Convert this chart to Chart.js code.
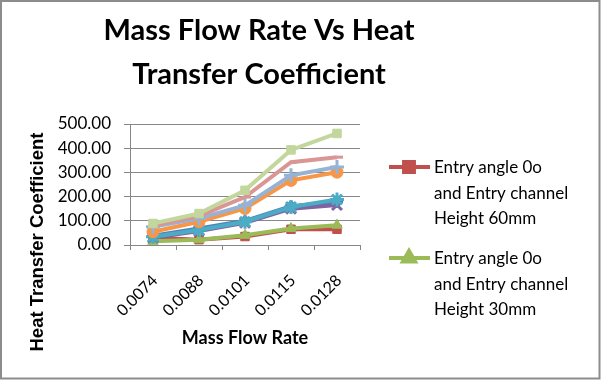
<!DOCTYPE html>
<html><head><meta charset="utf-8">
<script src="https://cdn.jsdelivr.net/npm/chart.js@4"></script>
<style>html,body{margin:0;padding:0;background:#fff}#wrap{width:604px;height:392px;position:relative}</style>
</head><body><div id="wrap"><canvas id="c" width="604" height="392"></canvas></div>
<script>
// ---- data ----
const categories = ['0.0074', '0.0088', '0.0101', '0.0115', '0.0128'];
const yTickValues = [0, 100, 200, 300, 400, 500];
const titleLines = ['Mass Flow Rate Vs Heat', 'Transfer Coefficient'];
const yAxisTitle = 'Heat Transfer Coefficient';
const xAxisTitle = 'Mass Flow Rate';

const seriesNames = [
  'Series 1',
  'Entry angle 0o and Entry channel Height 60mm',
  'Entry angle 0o and Entry channel Height 30mm',
  'Series 4', 'Series 5', 'Series 6', 'Series 7', 'Series 8', 'Series 9'
];
const legendLines2 = ['Entry angle 0o', 'and Entry channel', 'Height 60mm'];
const legendLines3 = ['Entry angle 0o', 'and Entry channel', 'Height 30mm'];
const series1 = [38, 68, 100, 160, 178];
const series2 = [30, 22, 35, 65, 65];
const series3 = [15, 22, 40, 68, 82];
const series4 = [30, 58, 92, 150, 165];
const series5 = [34, 62, 96, 157, 188];
const series6 = [55, 96, 151, 267, 301];
const series7 = [75, 110, 164, 288, 322];
const series8 = [80, 120, 198, 342, 363];
const series9 = [89, 130, 226, 393, 461];
const legendShown = [1, 2];
const legendTexts = [legendLines2, legendLines3];

// ---- styles ----
const colors = ['#4F81BD', '#C0504D', '#9BBB59', '#8064A2', '#4BACC6', '#F79646', '#95B3D7', '#D99694', '#C3D69B'];
const markers = ['rectRot', 'rect', 'triangle', 'crossRot', 'star', 'circle', 'cross', 'dash', 'rect'];
const allSeries = [series1, series2, series3, series4, series5, series6, series7, series8, series9];
const FONT = 'Lato, "Open Sans", sans-serif';
const GRID = '#878787';

const datasets = allSeries.map((d, i) => ({
  label: seriesNames[i],
  data: d,
  borderColor: colors[i],
  backgroundColor: colors[i],
  borderWidth: 4,
  pointStyle: markers[i],
  pointRadius: (markers[i] === 'crossRot' || markers[i] === 'star' || markers[i] === 'cross') ? 7 : 6,
  pointBorderWidth: (markers[i] === 'cross' || markers[i] === 'crossRot' || markers[i] === 'star' || markers[i] === 'dash') ? 3 : 1,
  pointBorderColor: colors[i],
  pointBackgroundColor: colors[i],
  tension: 0,
  order: allSeries.length - i
}));

const frame = {
  id: 'frame',
  beforeDraw(chart) {
    const c = chart.ctx;
    c.save();
    c.fillStyle = '#fff';
    c.fillRect(0, 0, chart.width, chart.height);
    c.strokeStyle = '#8c8c8c';
    c.lineWidth = 2;
    c.strokeRect(1, 1, 598.5, 377.5);
    c.restore();
  }
};

const titlePlugin = {
  id: 'xlTitle',
  afterDraw(chart) {
    const c = chart.ctx;
    c.save();
    c.fillStyle = '#000';
    c.font = 'bold 29px ' + FONT;
    c.textAlign = 'center';
    c.textBaseline = 'alphabetic';
    c.fillText(titleLines[0], 259, 40);
    c.fillText(titleLines[1], 259, 84);
    // y-axis title
    c.translate(38, 242);
    c.rotate(-Math.PI / 2);
    c.font = 'bold 18.5px "Liberation Sans", Arial, sans-serif';
    c.textBaseline = 'middle';
    c.fillText(yAxisTitle, 0, 0);
    c.restore();
  }
};

const legendPlugin = {
  id: 'xlLegend',
  afterDraw(chart) {
    const c = chart.ctx;
    c.save();
    c.font = '17px ' + FONT;
    c.textBaseline = 'middle';
    c.textAlign = 'left';
    let y = 168;
    legendShown.forEach((idx, n) => {
      const ds = chart.data.datasets[idx];
      c.strokeStyle = ds.borderColor;
      c.lineWidth = 4;
      c.beginPath();
      c.moveTo(389, y - 1);
      c.lineTo(430, y - 1);
      c.stroke();
      c.fillStyle = ds.backgroundColor;
      Chart.helpers.drawPoint(c, {pointStyle: ds.pointStyle, radius: 7, borderWidth: 1, rotation: 0}, 409, y - 1);
      c.fillStyle = '#000';
      const lines = legendTexts[n];
      lines.forEach((l, k) => c.fillText(l, 434, y + k * 25.5));
      y += (lines.length - 1) * 25.5 + 40;
    });
    c.restore();
  }
};

new Chart(document.getElementById('c'), {
  type: 'line',
  data: { labels: categories, datasets },
  plugins: [frame, titlePlugin, legendPlugin],
  options: {
    responsive: false,
    animation: false,
    devicePixelRatio: 1,
    layout: { padding: { top: 124, right: 244, bottom: 0, left: 0 } },
    plugins: { legend: { display: false }, tooltip: { enabled: false }, title: { display: false } },
    scales: {
      x: {
        offset: true,
        grid: { display: true, drawOnChartArea: false, drawTicks: true, tickLength: 5, offset: true, color: GRID },
        border: { display: true, color: GRID, width: 1 },
        ticks: { minRotation: 45, maxRotation: 45, padding: 21, labelOffset: 2, color: '#000', font: { family: FONT, size: 16 }, autoSkip: false },
        title: { display: true, text: xAxisTitle, color: '#000', font: { family: FONT, size: 18, weight: 'bold' }, padding: { top: 0, bottom: 43 } },
        afterFit(s) { s.height = 147; }
      },
      y: {
        min: 0, max: 500,
        afterBuildTicks(s) { s.ticks = yTickValues.map(v => ({ value: v })); },
        grid: { color: GRID, lineWidth: 1, tickLength: 6, drawTicks: true },
        border: { display: true, color: GRID, width: 1 },
        ticks: { padding: 13, color: '#000', font: { family: FONT, size: 17 }, callback: v => Number(v).toFixed(2) },
        title: { display: false },
        afterFit(s) { s.width = 130; }
      }
    }
  }
});
</script></body></html>
